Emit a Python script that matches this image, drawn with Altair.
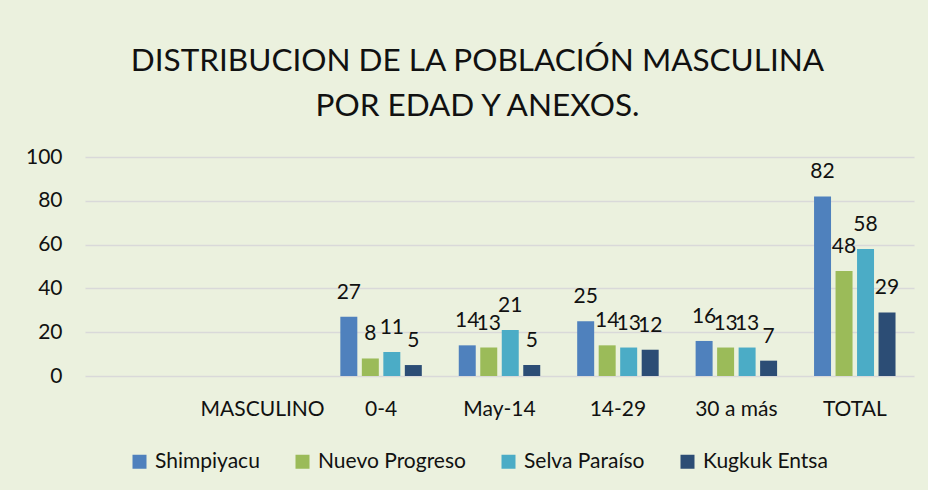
import altair as alt
import pandas as pd

categories = [" ", "MASCULINO", "0-4", "May-14", "14-29", "30 a más", "TOTAL"]
series = ["Shimpiyacu", "Nuevo Progreso", "Selva Paraíso", "Kugkuk Entsa"]
groups = ["0-4", "May-14", "14-29", "30 a más", "TOTAL"]
shimpiyacu = [27, 14, 25, 16, 82]
nuevo_progreso = [8, 13, 14, 13, 48]
selva_paraiso = [11, 21, 13, 13, 58]
kugkuk_entsa = [5, 5, 12, 7, 29]
colors = ["#4F81BD", "#9BBB59", "#4BACC6", "#2C4D75"]
y_ticks = [0, 20, 40, 60, 80, 100]

rows = []
for name, vals in zip(series, [shimpiyacu, nuevo_progreso, selva_paraiso, kugkuk_entsa]):
    for g, v in zip(groups, vals):
        rows.append({"grupo": g, "anexo": name, "valor": v})
df = pd.DataFrame(rows)

FONT = "Lato"
x_scale = alt.Scale(domain=categories, paddingInner=0.312, paddingOuter=0.156)

x_enc = alt.X(
    "grupo:N",
    scale=x_scale,
    axis=alt.Axis(title=None, labelAngle=0, domain=False, ticks=False,
                  labelPadding=22, labelFontSize=21, labelFont=FONT,
                  labelColor="#111111"),
)
xo_enc = alt.XOffset("anexo:N", sort=series,
                     scale=alt.Scale(domain=series, paddingInner=0.21, paddingOuter=0))
y_enc = alt.Y(
    "valor:Q",
    scale=alt.Scale(domain=[0, 100], nice=False),
    axis=alt.Axis(title=None, values=y_ticks, domain=False, ticks=False,
                  labelPadding=23, labelFontSize=21, labelFont=FONT,
                  labelColor="#111111", grid=True, gridColor="#D9D9D9",
                  gridWidth=1.5),
)
color_enc = alt.Color(
    "anexo:N",
    sort=series,
    scale=alt.Scale(domain=series, range=colors),
    legend=alt.Legend(
        title=None, orient="none", legendX=44, legendY=294,
        direction="horizontal", symbolType="square", symbolSize=196,
        symbolStrokeWidth=0, labelFont=FONT, labelFontSize=21,
        labelColor="#111111", labelOffset=5, columnPadding=32, padding=0,
    ),
)

bars = alt.Chart(df).mark_bar().encode(
    x=x_enc, xOffset=xo_enc, y=y_enc, color=color_enc
)
labels = alt.Chart(df).mark_text(
    baseline="alphabetic", align="center", dy=-18, font=FONT, fontSize=21,
    color="#111111"
).encode(
    x=alt.X("grupo:N", scale=x_scale),
    xOffset=xo_enc,
    y=alt.Y("valor:Q"),
    text=alt.Text("valor:Q"),
)

chart = alt.layer(bars, labels).properties(
    width=829,
    height=219,
    autosize=alt.AutoSizeParams(type="none"),
    padding={"left": 85, "top": 157, "right": 14, "bottom": 114},
    background="#EBF1DE",
    title=alt.TitleParams(
        text=["DISTRIBUCION DE LA POBLACIÓN MASCULINA", "POR EDAD Y ANEXOS."],
        font=FONT, fontSize=31.5, fontWeight="normal", color="#111111",
        anchor="middle", dx=-22, lineHeight=45, offset=24,
    ),
).configure_view(stroke=None)

chart.save("out.html", embed_options={"renderer": "svg", "actions": False})
